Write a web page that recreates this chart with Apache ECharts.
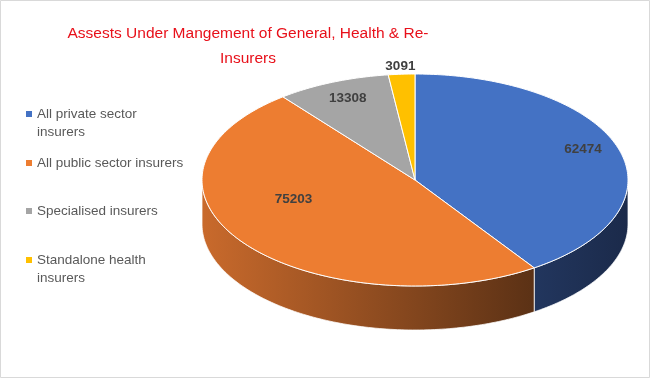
<!DOCTYPE html>
<html>
<head>
<meta charset="utf-8">
<script src="https://cdn.jsdelivr.net/npm/echarts@6/dist/echarts.min.js"></script>
<style>
html,body{margin:0;padding:0;background:#fff;}
#chart{width:651px;height:379px;}
</style>
</head>
<body>
<div id="chart"></div>
<script>
// ---- data ----
const categories = ['All private sector insurers', 'All public sector insurers', 'Specialised insurers', 'Standalone health insurers'];
const values = [62474, 75203, 13308, 3091];
const legendTexts = ['All private sector\ninsurers', 'All public sector insurers', 'Specialised insurers', 'Standalone health\ninsurers'];
const titleText = 'Assests Under Mangement of General, Health & Re-\nInsurers';

// ---- styling / layout ----
const topColors = ['#4472C4', '#ED7D31', '#A5A5A5', '#FFC000'];
const sideColors = [
  ['#22365e', '#1b2a4a'],
  ['#c96a2c', '#5b3115'],
  ['#7a7a7a', '#4f4f4f'],
  ['#bf9000', '#7f6000']
];
const PIE = { cx: 415, cy: 180, rx: 213, ry: 106, depth: 44 };
const labelPlace = [
  { r: 0.84, dx: -3, dy: -5 },
  { r: 0.84, dx: 23, dy: -33 },
  { r: 0.84, dx: 2, dy: 0 },
  { r: 1.09, dx: 0, dy: 2 }
];
const legendTops = [104, 153, 201, 250];
const FONT = 'Liberation Sans';

const total = values.reduce((a, b) => a + b, 0);
const starts = [];
let acc = 0;
values.forEach(v => { starts.push(acc); acc += v; });

function pt(theta, dy) {
  return [PIE.cx + PIE.rx * Math.sin(theta), PIE.cy - PIE.ry * Math.cos(theta) + (dy || 0)];
}
function arc(a, b, dy) {
  const n = Math.max(2, Math.ceil(Math.abs(b - a) / (Math.PI / 180)));
  const out = [];
  for (let k = 0; k <= n; k++) out.push(pt(a + (b - a) * k / n, dy));
  return out;
}

function makeRender(i) {
  return function (params, api) {
    const v = api.value(0);
    const a = starts[i] / total * Math.PI * 2;
    const b = a + v / total * Math.PI * 2;
    const children = [];
    // side wall (front half only)
    const s = Math.max(a, Math.PI / 2), e = Math.min(b, Math.PI * 1.5);
    if (e > s) {
      const topArc = arc(s, e, 0);
      const botArc = arc(e, s, PIE.depth);
      const xs = topArc.map(p => p[0]);
      const x1 = Math.min.apply(null, xs), x2 = Math.max.apply(null, xs);
      children.push({
        type: 'polygon', z2: 1,
        shape: { points: topArc.concat(botArc) },
        style: {
          fill: new echarts.graphic.LinearGradient(x1, 0, x2, 0, [
            { offset: 0, color: sideColors[i][0] },
            { offset: 1, color: sideColors[i][1] }
          ], true),
          stroke: 'rgba(255,255,255,0.75)', lineWidth: 1
        }
      });
    }
    // top face
    children.push({
      type: 'polygon', z2: 10,
      shape: { points: [[PIE.cx, PIE.cy]].concat(arc(a, b, 0)) },
      style: { fill: topColors[i], stroke: '#ffffff', lineWidth: 1 }
    });
    // label
    const m = (a + b) / 2;
    const lp = labelPlace[i];
    children.push({
      type: 'text', z2: 20,
      x: PIE.cx + lp.r * PIE.rx * Math.sin(m) + lp.dx,
      y: PIE.cy - lp.r * PIE.ry * Math.cos(m) + lp.dy,
      style: {
        text: String(v), fill: '#404040',
        font: 'bold 13.5px "' + FONT + '"',
        align: 'center', verticalAlign: 'middle'
      }
    });
    return { type: 'group', children: children };
  };
}

function legendIcon(twoLine) {
  const h = twoLine ? 36 : 18;
  return 'path://M0,0h0.01v0.01h-0.01z M0,6h6v6h-6z M0,' + (h - 0.01) + 'h0.01v0.01h-0.01z';
}

const chart = echarts.init(document.getElementById('chart'), null, { renderer: 'canvas' });
chart.setOption({
  animation: false,
  backgroundColor: '#ffffff',
  color: topColors,
  title: {
    text: titleText,
    left: 243, top: 16, textAlign: 'center',
    textStyle: { color: '#e8101a', fontFamily: FONT, fontSize: 15.5, fontWeight: 'normal', lineHeight: 25 }
  },
  legend: categories.map((c, i) => {
    const two = legendTexts[i].indexOf('\n') >= 0;
    return {
      data: [{ name: c, icon: legendIcon(two) }],
      left: 26, top: legendTops[i] + 1, padding: 0,
      itemWidth: 6, itemHeight: two ? 36 : 18,
      selectedMode: false,
      formatter: () => legendTexts[i],
      textStyle: { color: '#595959', fontFamily: FONT, fontSize: 13.5, lineHeight: 18 }
    };
  }),
  graphic: [{
    type: 'rect', z: 100, silent: true,
    shape: { x: 0.5, y: 0.5, width: 649, height: 377 },
    style: { fill: null, stroke: '#d9d9d9', lineWidth: 1 }
  }],
  series: categories.map((c, i) => ({
    type: 'custom', name: c, coordinateSystem: 'none',
    itemStyle: { color: topColors[i] },
    data: [[values[i]]],
    renderItem: makeRender(i)
  }))
});
</script>
</body>
</html>
